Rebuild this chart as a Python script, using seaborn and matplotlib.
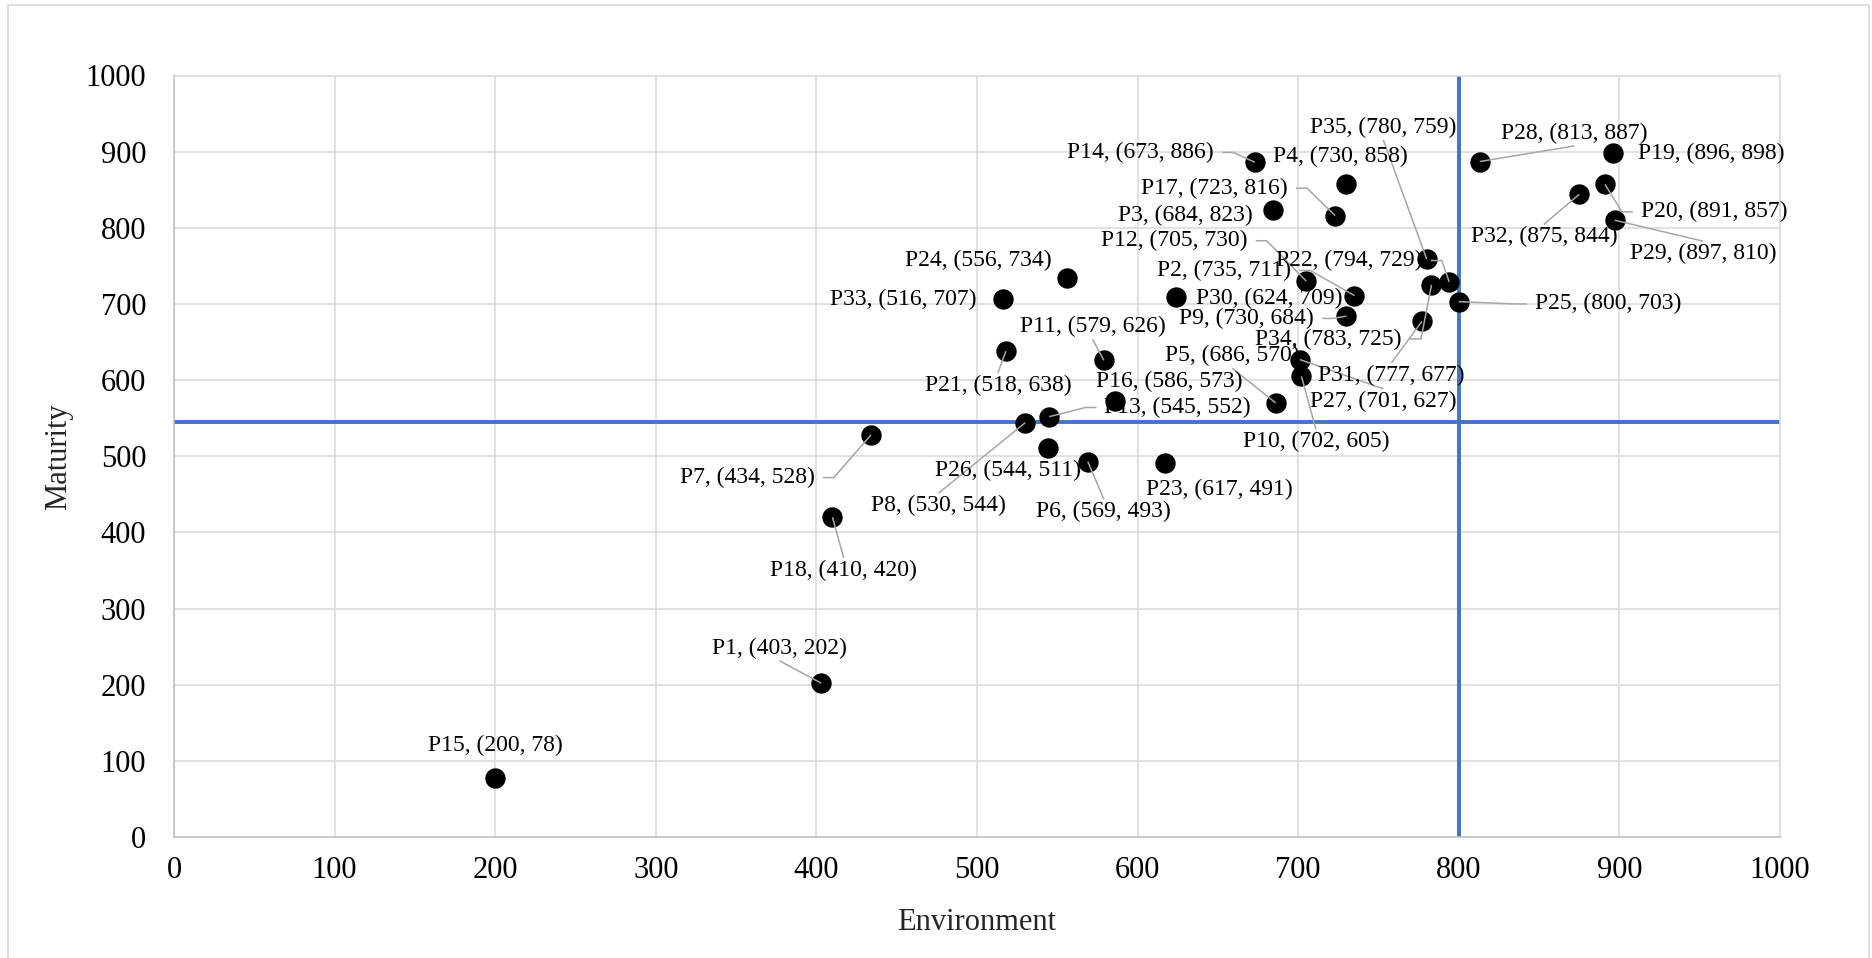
import matplotlib
matplotlib.use("Agg")
import matplotlib.pyplot as plt
import seaborn as sns
import pandas as pd
from matplotlib.patches import Rectangle

# Project scores
names = ["P1", "P2", "P3", "P4", "P5", "P6", "P7", "P8", "P9", "P10",
         "P11", "P12", "P13", "P14", "P15", "P16", "P17", "P18", "P19", "P20",
         "P21", "P22", "P23", "P24", "P25", "P26", "P27", "P28", "P29", "P30",
         "P31", "P32", "P33", "P34", "P35"]
environment = [403, 735, 684, 730, 686, 569, 434, 530, 730, 702,
               579, 705, 545, 673, 200, 586, 723, 410, 896, 891,
               518, 794, 617, 556, 800, 544, 701, 813, 897, 624,
               777, 875, 516, 783, 780]
maturity = [202, 711, 823, 858, 570, 493, 528, 544, 684, 605,
            626, 730, 552, 886, 78, 573, 816, 420, 898, 857,
            638, 729, 491, 734, 703, 511, 627, 887, 810, 709,
            677, 844, 707, 725, 759]

# Quadrant thresholds
x_threshold = 800
y_threshold = 545

# Data-label placement (data units) and leader-line attachment
label_x = [377, 654, 630, 726, 659, 579, 357, 476, 668, 711,
           572, 623, 625, 602, 200, 620, 648, 417, 957, 959,
           513, 732, 651, 501, 893, 519, 753, 872, 952, 682,
           758, 853, 454, 719, 753]
label_y = [248, 744, 816, 894, 632, 427, 472, 435, 681, 519,
           670, 783, 564, 899, 120, 598, 852, 350, 898, 821,
           593, 757, 456, 757, 700, 482, 572, 924, 766, 707,
           606, 788, 706, 654, 932]
leader_mode = ["tb", "side", None, None, "tb", "tb", "side", "tb", "side", "tb",
               "tb", "side", "side", "side", None, None, "side", "tb", None, "side",
               "tb", "side", None, None, "side", None, "tb", "tb", "tb", None,
               "tb", "tb", None, "side", "tb"]

df = pd.DataFrame({"Environment": environment, "Maturity": maturity})

sns.set_theme(style="white")
plt.rcParams["font.family"] = ["Liberation Serif", "DejaVu Serif"]

W, H = 1872, 958
fig = plt.figure(figsize=(W / 100, H / 100), dpi=100)
fig.patch.set_facecolor("white")
ax = fig.add_axes([174 / W, 1 - 837 / H, (1780 - 174) / W, (837 - 75.5) / H])

ax.set_xlim(0, 1000)
ax.set_ylim(0, 1000)
ax.set_xticks(range(0, 1001, 100))
ax.set_yticks(range(0, 1001, 100))
ax.grid(True, color="#d9d9d9", linewidth=1.1, zorder=0)
ax.set_axisbelow(True)
for side, sp in ax.spines.items():
    sp.set_color("#d9d9d9" if side in ("top", "right") else "#bfbfbf")
    sp.set_linewidth(1.1)
ax.tick_params(axis="both", length=0, labelsize=22, colors="black")
ax.tick_params(axis="y", pad=20)
ax.tick_params(axis="x", pad=14)

ax.axvline(x_threshold, color="#4472C4", linewidth=2.8, zorder=2)
ax.axhline(y_threshold, color="#4472C4", linewidth=2.8, zorder=2)

sns.scatterplot(data=df, x="Environment", y="Maturity", s=215, color="black",
                edgecolor="black", linewidth=0, ax=ax, zorder=3, legend=False)

ax.set_xlabel("Environment", fontsize=22, labelpad=16)
ax.set_ylabel("Maturity", fontsize=22, labelpad=9)

texts = []
for n, x, y, lx, ly in zip(names, environment, maturity, label_x, label_y):
    t = ax.text(lx, ly, f"{n}, ({x}, {y})", ha="center", va="center",
                fontsize=17, color="black", zorder=5)
    texts.append(t)

# Leader lines from each moved label to its point
fig.canvas.draw()
renderer = fig.canvas.get_renderer()
inv = ax.transData.inverted()
gap, stub = 8, 11
for t, x, y, mode in zip(texts, environment, maturity, leader_mode):
    if mode is None:
        continue
    bb = t.get_window_extent(renderer)
    px, py = ax.transData.transform((x, y))
    cx, cy = (bb.x0 + bb.x1) / 2, (bb.y0 + bb.y1) / 2
    if mode == "side":
        if px > bb.x1:
            pts = [(bb.x1 + gap, cy), (bb.x1 + gap + stub, cy), (px, py)]
        else:
            pts = [(bb.x0 - gap, cy), (bb.x0 - gap - stub, cy), (px, py)]
    else:
        if py > bb.y1:
            pts = [(cx, bb.y1 + 2), (px, py)]
        else:
            pts = [(cx, bb.y0 - 2), (px, py)]
    dpts = inv.transform(pts)
    ax.plot(dpts[:, 0], dpts[:, 1], color="#a6a6a6", linewidth=1.1, zorder=4,
            solid_capstyle="butt")

fig.patches.append(Rectangle((8 / W, -4 / H), (1869 - 8) / W, (962 - 5) / H,
                             transform=fig.transFigure, fill=False,
                             edgecolor="#d9d9d9", linewidth=1.2))

fig.savefig("out.png", dpi=100, facecolor="white")
